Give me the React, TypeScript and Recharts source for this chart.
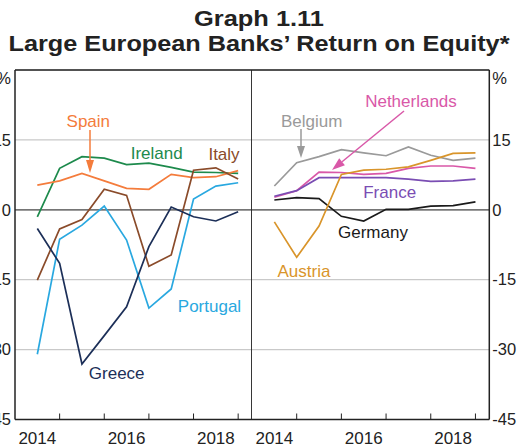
import React from 'react';
import { CartesianGrid, Line, LineChart, ReferenceLine, XAxis, YAxis } from 'recharts';

// half-yearly observations
const periods = [2014.5, 2015.0, 2015.5, 2016.0, 2016.5, 2017.0, 2017.5, 2018.0, 2018.5, 2019.0];

// left panel
const ireland = [-1.5, 8.9, 11.4, 11.1, 9.7, 10.0, 9.1, 8.1, 8.0, 7.8];
const spain = [5.3, 6.2, 7.8, 6.2, 4.6, 4.4, 7.6, 6.9, 7.1, 8.4];
const italy = [-15.1, -4.1, -2.1, 4.4, 3.1, -12.1, -9.7, 8.5, 9.0, 6.6];
const portugal = [-31.0, -6.3, -3.3, 0.8, -6.5, -21.1, -17.0, 2.3, 5.1, 5.8];
const greece = [-4.0, -11.5, -33.1, -27.0, -20.8, -7.9, 0.6, -1.5, -2.4, -0.4];

// right panel
const belgium = [5.1, 10.1, 11.4, 12.9, 12.2, 11.6, 13.5, 11.7, 10.6, 11.1];
const netherlands = [2.7, 4.1, 8.1, 8.0, 7.6, 7.8, 8.9, 9.4, 9.4, 8.9];
const france = [2.9, 4.1, 6.9, 6.9, 6.9, 6.9, 6.6, 6.1, 6.2, 6.6];
const germany = [2.1, 2.6, 2.4, -1.4, -2.4, 0.1, 0.1, 0.8, 0.9, 1.7];
const austria = [-2.6, -10.2, -3.5, 7.6, 8.5, 8.7, 9.2, 10.6, 12.1, 12.2];

const yTicks = [-45, -30, -15, 0, 15, 30];
const xTicks = [2014.5, 2015, 2016, 2016.5, 2017, 2018, 2018.5, 2019];
const xDomain = [2014, 2019.31];
const yDomain = [-45, 30];

const leftData = periods.map((t, i) => ({
  t,
  ireland: ireland[i],
  spain: spain[i],
  italy: italy[i],
  portugal: portugal[i],
  greece: greece[i],
}));

const rightData = periods.map((t, i) => ({
  t,
  belgium: belgium[i],
  netherlands: netherlands[i],
  france: france[i],
  germany: germany[i],
  austria: austria[i],
}));

const FONT = '"Liberation Sans", Arial, Helvetica, sans-serif';
const TXT = '#222';

const leftSeries = [
  { key: 'ireland', color: '#1d8a4c' },
  { key: 'spain', color: '#f47c3c' },
  { key: 'italy', color: '#8a4b2a' },
  { key: 'portugal', color: '#29a8e0' },
  { key: 'greece', color: '#1c2f58' },
];

const rightSeries = [
  { key: 'belgium', color: '#9a9a9a' },
  { key: 'netherlands', color: '#d958a8' },
  { key: 'france', color: '#7a4db3' },
  { key: 'germany', color: '#1a1a1a' },
  { key: 'austria', color: '#d9952b' },
];

const XTick = (props: any) => {
  const { x, y, payload } = props;
  const v = payload.value;
  if (Number.isInteger(v)) {
    return <line x1={x} y1={y} x2={x} y2={y - 6} stroke="#222" strokeWidth={1} />;
  }
  return (
    <text x={x} y={y + 24.5} textAnchor="middle" fontSize={17} fill={TXT} fontFamily={FONT}>
      {Math.floor(v)}
    </text>
  );
};

// left labels run off the page edge, as in the original
const makeYTick = (side: 'left' | 'right') => (props: any) => {
  const { y, payload } = props;
  const v = payload.value;
  const tx = side === 'left' ? 11 : 240.3;
  return (
    <text
      x={tx}
      y={v === 30 ? y + 8 : y}
      dy="0.35em"
      textAnchor={side === 'left' ? 'end' : 'start'}
      fontSize={16.5}
      fill={TXT}
      fontFamily={FONT}
    >
      {v === 30 ? '%' : String(v)}
    </text>
  );
};

function Panel({ data, series, side }: { data: any[]; series: { key: string; color: string }[]; side: 'left' | 'right' }) {
  const isLeft = side === 'left';
  return (
    <LineChart
      width={isLeft ? 252 : 266}
      height={447}
      data={data}
      margin={{ top: 70, right: 0, bottom: 0, left: 0 }}
    >
      <CartesianGrid vertical={false} stroke="#c9c9c9" strokeWidth={1.2} />
      <XAxis
        dataKey="t"
        type="number"
        domain={xDomain}
        allowDataOverflow
        ticks={xTicks}
        interval={0}
        tickSize={0}
        tickMargin={0}
        height={27.5}
        tick={XTick}
        axisLine={{ stroke: '#222', strokeWidth: 1.5 }}
      />
      <YAxis
        type="number"
        domain={yDomain}
        ticks={yTicks}
        interval={0}
        orientation={side}
        width={isLeft ? 15 : 28.7}
        tickSize={0}
        tickMargin={3}
        tick={makeYTick(side)}
        axisLine={{ stroke: '#222', strokeWidth: 1.5 }}
      />
      <ReferenceLine y={0} stroke="#555" strokeWidth={1.3} />
      <ReferenceLine y={30} stroke="#222" strokeWidth={1.5} />
      {isLeft ? <ReferenceLine x={2019.31} stroke="#222" strokeWidth={1.8} /> : null}
      {series.map((s) => (
        <Line
          key={s.key}
          dataKey={s.key}
          type="linear"
          stroke={s.color}
          strokeWidth={1.7}
          dot={false}
          isAnimationActive={false}
        />
      ))}
    </LineChart>
  );
}

function Arrow({ x1, y1, x2, y2, color, head = 12, half = 4.5 }: any) {
  const dx = x2 - x1;
  const dy = y2 - y1;
  const len = Math.sqrt(dx * dx + dy * dy);
  const ux = dx / len;
  const uy = dy / len;
  const bx = x2 - ux * head;
  const by = y2 - uy * head;
  const px = -uy * half;
  const py = ux * half;
  return (
    <g>
      <line x1={x1} y1={y1} x2={bx} y2={by} stroke={color} strokeWidth={1.5} />
      <polygon points={`${x2},${y2} ${bx + px},${by + py} ${bx - px},${by - py}`} fill={color} />
    </g>
  );
}

export default function App() {
  const label = (x: number, y: number, text: string, color: string) => (
    <text x={x} y={y} textAnchor="middle" fontSize={17} fill={color} fontFamily={FONT}>
      {text}
    </text>
  );
  return (
    <div style={{ position: 'fixed', left: 0, top: 0, width: 518, height: 447, background: '#fff' }}>
      <div style={{ position: 'absolute', left: 0, top: 0 }}>
        <Panel data={leftData} series={leftSeries} side="left" />
      </div>
      <div style={{ position: 'absolute', left: 252, top: 0 }}>
        <Panel data={rightData} series={rightSeries} side="right" />
      </div>
      <svg width={518} height={447} style={{ position: 'absolute', left: 0, top: 0, pointerEvents: 'none' }}>
        <text x={259} y={26} textAnchor="middle" fontSize={22} fontWeight="bold" fill={TXT} fontFamily={FONT} textLength={130} lengthAdjust="spacingAndGlyphs">
          Graph 1.11
        </text>
        <text x={259} y={50.5} textAnchor="middle" fontSize={22} fontWeight="bold" fill={TXT} fontFamily={FONT} textLength={501} lengthAdjust="spacingAndGlyphs">
          Large European Banks’ Return on Equity*
        </text>

        {label(88.3, 126.7, 'Spain', '#f47c3c')}
        <Arrow x1={90} y1={130} x2={90} y2={173} color="#f47c3c" head={13} half={4} />
        {label(156.7, 159, 'Ireland', '#1d8a4c')}
        {label(224, 160, 'Italy', '#8a4b2a')}
        {label(209.5, 312.3, 'Portugal', '#29a8e0')}
        {label(116.7, 379.3, 'Greece', '#1c2f58')}

        {label(311.7, 126.7, 'Belgium', '#9a9a9a')}
        <Arrow x1={301} y1={129} x2={301} y2={158} color="#9a9a9a" head={12} half={4} />
        {label(411, 106.7, 'Netherlands', '#d958a8')}
        <Arrow x1={404} y1={111} x2={332} y2={170} color="#d958a8" head={13} half={4.5} />
        {label(389.7, 198.3, 'France', '#7a4db3')}
        {label(373, 238, 'Germany', '#1a1a1a')}
        {label(304, 276.7, 'Austria', '#d9952b')}
      </svg>
    </div>
  );
}
